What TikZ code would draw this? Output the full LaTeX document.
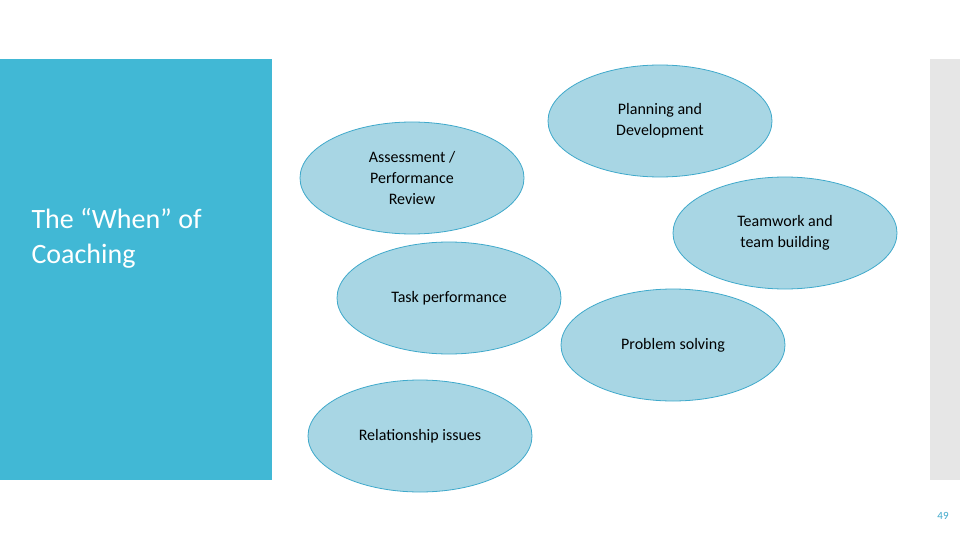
\documentclass[tikz,border=0pt]{standalone}
\usepackage{fontspec}
\setmainfont{Carlito}
\usetikzlibrary{shapes.geometric}
\definecolor{sidebar}{HTML}{41B8D5}
\definecolor{ellfill}{HTML}{A8D6E4}
\definecolor{elldraw}{HTML}{3FA9CB}
\definecolor{graybar}{HTML}{E6E6E6}
\tikzset{bubble/.style={ellipse,draw=elldraw,fill=ellfill,line width=0.8pt,minimum width=224pt,minimum height=112pt,inner sep=0pt,align=center,font=\fontsize{16}{21}\selectfont,text=black}}
\begin{document}
\begin{tikzpicture}[x=1pt,y=-1pt]
\useasboundingbox (0,0) rectangle (960,540);
\fill[white] (0,0) rectangle (960,540);
\fill[sidebar] (0,59) rectangle (272,480);
\fill[graybar] (930,59) rectangle (960,480);
\node[anchor=west,align=left,text=white,font=\fontsize{28}{35}\selectfont] (title) at (28,238) {The “When” of\\Coaching};
\node[bubble] (plan) at (660,121) {Planning and\\Development};
\node[bubble] (assess) at (412,178) {Assessment /\\Performance\\Review};
\node[bubble] (team) at (785,233) {Teamwork and\\team building};
\node[bubble] (task) at (449,298) {Task performance};
\node[bubble] (prob) at (673,345) {Problem solving};
\node[bubble] (rel) at (420,436) {Relationship issues};
\node[text=elldraw,font=\fontsize{11}{13}\selectfont] (pg) at (943,516) {49};
\end{tikzpicture}
\end{document}
